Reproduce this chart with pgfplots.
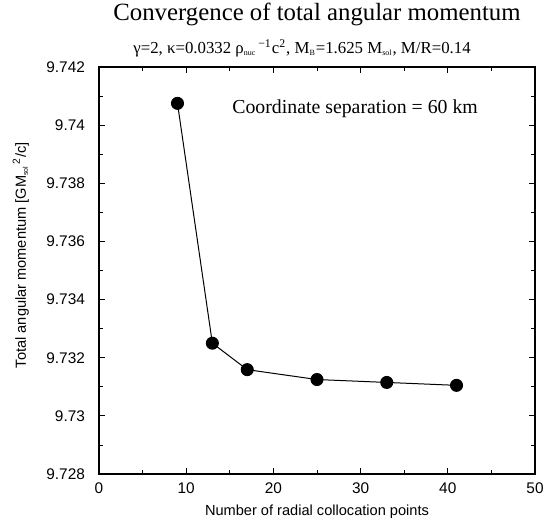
\documentclass[border=0pt]{standalone}
\usepackage{fontspec}
\setmainfont{Liberation Serif}
\newfontfamily\helv{Liberation Sans}
\usepackage{pgfplots}
\pgfplotsset{compat=1.18}
\begin{document}
\begin{tikzpicture}
\begin{axis}[
  name=main,
  scale only axis,
  width=218pt, height=203.5pt,
  xmin=0, xmax=50, ymin=9.728, ymax=9.742,
  xtick={0,10,...,50}, minor xtick={5,15,...,45},
  ytick={9.728,9.730,...,9.742}, minor ytick={9.729,9.731,...,9.741},
  yticklabels={9.728,9.73,9.732,9.734,9.736,9.738,9.74,9.742},
  tick align=inside, tick pos=both,
  major tick length=3pt, minor tick length=2pt,
  tick style={black, line width=0.4pt},
  axis line style={line width=0.6pt},
  /pgf/number format/assume math mode=true,
  tick label style={font=\helv\fontsize{7.7}{9}\selectfont},
  xticklabel style={yshift=-1pt},
  yticklabel style={xshift=-3.5pt},
  xlabel={Number of radial collocation points},
  ylabel={Total angular momentum [GM\textsubscript{\fontsize{3.5}{4}\selectfont sol}\textsuperscript{\,2}/c]},
  label style={font=\helv\fontsize{7.3}{9}\selectfont},
  xlabel style={at={(rel axis cs:0.5,0)}, anchor=base, yshift=-20.75pt},
  ylabel style={at={(rel axis cs:0,0.538)}, anchor=base, yshift=36.5pt},
]
\addplot[black, line width=0.5pt, mark=*, mark size=3pt] coordinates {
  (9,9.74075) (13,9.7325) (17,9.73159) (25,9.73125) (33,9.73115) (41,9.73105)
};
\node[anchor=base west, inner sep=0pt, font=\fontsize{9.9}{11}\selectfont] at (rel axis cs:0.305,0.887) {Coordinate separation = 60 km};
\end{axis}
\node[anchor=base, inner sep=0pt, font=\fontsize{12.4}{14}\selectfont] at ([yshift=23.5pt]main.north) {Convergence of total angular momentum};
\node[anchor=base west, inner sep=0pt, font=\fontsize{8.4}{9}\selectfont] at ([xshift=17pt,yshift=7pt]main.north west)
  {γ=2, κ=0.0332 ρ\textsubscript{\fontsize{4}{5}\selectfont nuc}\textsuperscript{\,−1}c\textsuperscript{2}, M\textsubscript{\fontsize{4}{5}\selectfont B}=1.625 M\textsubscript{\fontsize{4}{5}\selectfont sol}, M/R=0.14};
\pgfresetboundingbox
\path[use as bounding box] ([xshift=-49.5pt,yshift=-26.5pt]main.south west) rectangle ([xshift=6.5pt,yshift=33.5pt]main.north east);
\end{tikzpicture}
\end{document}
